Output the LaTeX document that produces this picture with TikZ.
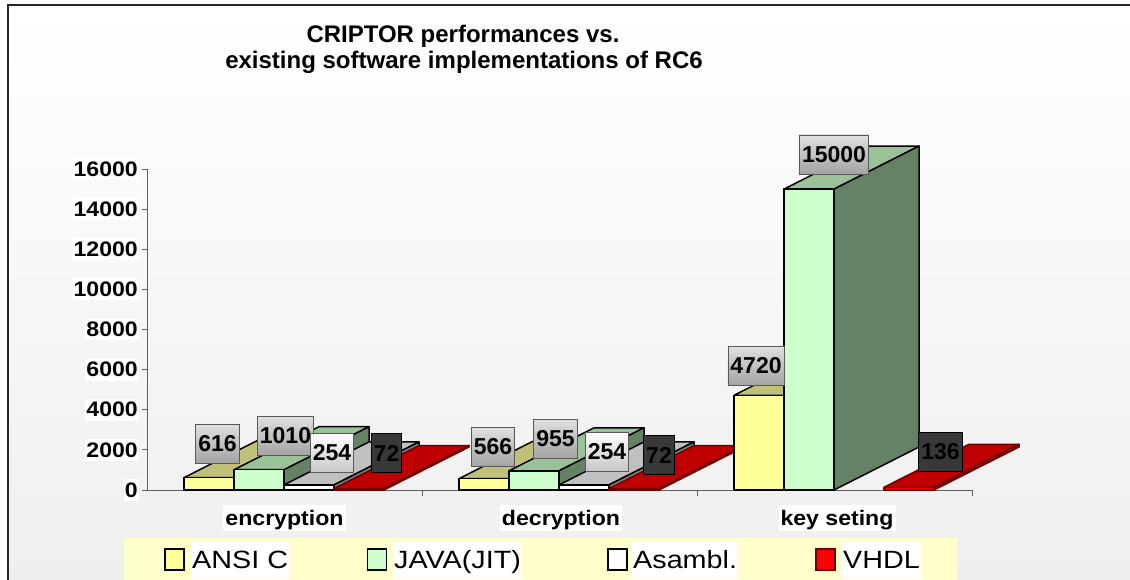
\documentclass[tikz,border=0pt]{standalone}
\usepackage{fontspec}
\setmainfont{Liberation Sans}
\usepackage{graphicx}
\definecolor{ansiF}{HTML}{FFFF99}
\definecolor{ansiT}{HTML}{C0C078}
\definecolor{ansiS}{HTML}{808050}
\definecolor{javaF}{HTML}{CCFFCC}
\definecolor{javaT}{HTML}{99C299}
\definecolor{javaS}{HTML}{668266}
\definecolor{asmF}{HTML}{FFFFFF}
\definecolor{asmT}{HTML}{C0C0C0}
\definecolor{asmS}{HTML}{808080}
\definecolor{vhdF}{HTML}{FF0000}
\definecolor{vhdT}{HTML}{C00000}
\definecolor{vhdS}{HTML}{800000}
\definecolor{vhdE}{HTML}{700000}
\definecolor{bggray}{HTML}{EFEFEF}
\definecolor{legbg}{HTML}{FFFFCC}
\definecolor{axisgray}{HTML}{606060}
\newcommand{\sxl}[1]{\scalebox{1.15}[1]{#1}}
\newcommand{\sxa}[1]{\scalebox{1.1}[1]{#1}}
% #1 x, #2 height, #3 front, #4 top, #5 side, #6 edge colour
\newcommand{\mybar}[6]{%
  \filldraw[fill=#4,draw=#6,barline] (#1,490-#2) -- ++(50,0) -- ++(85,-43) -- ++(-50,0) -- cycle;
  \filldraw[fill=#5,draw=#6,barline] (#1+50,490) -- ++(0,-#2) -- ++(85,-43) -- ++(0,#2) -- cycle;
  \filldraw[fill=#3,draw=#6,barline] (#1,490) rectangle ++(50,-#2);
}
\tikzset{
  barline/.style={line width=1.5, line join=round},
  valbox/.style={draw=#1, line width=0.8, minimum height=39, inner xsep=2.5, inner ysep=0,
    font=\bfseries\fontsize{23}{23}\selectfont},
  valA/.style={valbox=gray!70!black, top color=white!88!black, bottom color=white!64!black},
  valW/.style={valbox=gray!70!black, top color=white, bottom color=white!78!black},
  valD/.style={valbox=black, fill=white!22!black},
  axlab/.style={anchor=east, fill=white, inner xsep=1, inner ysep=3.5,
    font=\bfseries\fontsize{21}{21}\selectfont},
  catlab/.style={anchor=base, fill=white, inner xsep=2, inner ysep=2, text height=18, text depth=4,
    font=\bfseries\fontsize{21}{21}\selectfont},
  legsq/.style={draw=black, line width=1.8, minimum width=19, minimum height=21, inner sep=0},
  legtxt/.style={anchor=base west, fill=white, inner xsep=1, inner ysep=5, text height=21, text depth=6,
    font=\fontsize{25}{25}\selectfont},
  ttl/.style={anchor=base, font=\bfseries\fontsize{24}{24}\selectfont},
}
\begin{document}
\begin{tikzpicture}[x=1pt,y=-1pt]
\useasboundingbox (0,0) rectangle (1130,580);
\fill[white] (0,0) rectangle (1130,580);
\shade[top color=white, bottom color=bggray] (8,5) rectangle (1130,580);
\draw[line width=2, black!85] (8,580) -- (8,5.5) -- (1130,5.5);

% title
\node[ttl] (t1) at (463,43) {CRIPTOR performances vs.};
\node[ttl] (t2) at (464,69) {existing software implementations of RC6};

% axes
\draw[axisgray, line width=1] (147,169) -- (147,490) -- (972,490);
\foreach \v/\k in {0/0,2000/1,4000/2,6000/3,8000/4,10000/5,12000/6,14000/7,16000/8}{
  \draw[axisgray, line width=1] (142,490-\k*40.12) -- (147,490-\k*40.12);
  \node[axlab] (yl\k) at (139,490-\k*40.12) {\sxa{\v}};
}
\foreach \xx in {422,697,972}{
  \draw[axisgray, line width=1] (\xx,490) -- (\xx,496);
}

% encryption
\mybar{184}{12.36}{ansiF}{ansiT}{ansiS}{black}
\mybar{234}{20.26}{javaF}{javaT}{javaS}{black}
\mybar{284}{5.10}{asmF}{asmT}{asmS}{black}
\mybar{334}{1.44}{vhdF}{vhdT}{vhdS}{vhdE}
% decryption
\mybar{459}{11.35}{ansiF}{ansiT}{ansiS}{black}
\mybar{509}{19.16}{javaF}{javaT}{javaS}{black}
\mybar{559}{5.10}{asmF}{asmT}{asmS}{black}
\mybar{609}{1.44}{vhdF}{vhdT}{vhdS}{vhdE}
% key seting
\mybar{734}{94.68}{ansiF}{ansiT}{ansiS}{black}
\mybar{784}{300.9}{javaF}{javaT}{javaS}{black}
\mybar{884}{2.73}{vhdF}{vhdT}{vhdS}{vhdE}

% value labels
\node[valA] (e1) at (217.5,443.5) {616};
\node[valA] (e2) at (285.5,436) {1010};
\node[valW] (e3) at (332,453) {254};
\node[valD] (e4) at (386.5,453) {72};
\node[valA] (d1) at (493,447) {566};
\node[valA] (d2) at (555.5,438.5) {955};
\node[valW] (d3) at (607,451.5) {254};
\node[valD] (d4) at (659,455) {72};
\node[valA] (k1) at (756,365.5) {4720};
\node[valA] (k2) at (834,154.5) {15000};
\node[valD] (k4) at (940.5,452) {136};

% category labels
\node[catlab] (c1) at (284.5,525) {\sxa{encryption}};
\node[catlab] (c2) at (561,525) {\sxa{decryption}};
\node[catlab] (c3) at (837,525) {\sxa{key seting}};

% legend
\fill[legbg] (124,538) rectangle (957,582);
\node[legsq, fill=ansiF] (s1) at (174.5,559.5) {};
\node[legtxt] (l1) at (191,568) {\sxl{ANSI C}};
\node[legsq, fill=javaF] (s2) at (377,559.5) {};
\node[legtxt] (l2) at (393,568) {\sxl{JAVA(JIT)}};
\node[legsq, fill=asmF] (s3) at (617.5,559.5) {};
\node[legtxt] (l3) at (632,568) {\sxl{Asambl.}};
\node[legsq, fill=vhdF, draw=vhdE] (s4) at (825.5,559.5) {};
\node[legtxt] (l4) at (842,568) {\sxl{VHDL}};
\end{tikzpicture}
\end{document}
